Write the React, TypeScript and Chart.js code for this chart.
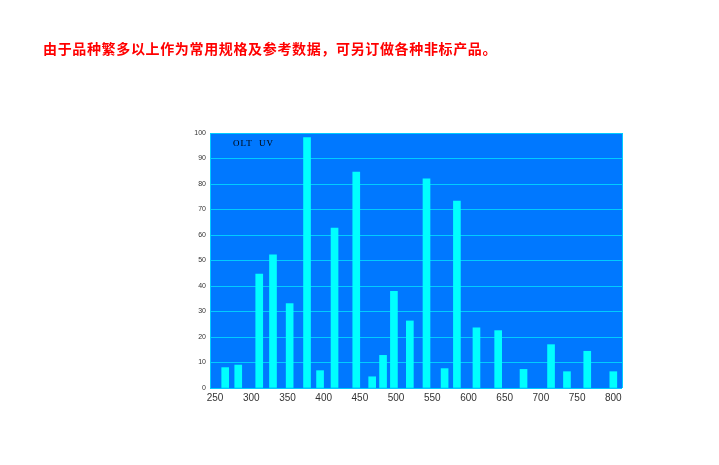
import * as React from 'react';
import {useRef, useEffect} from 'react';
import {Chart, registerables} from 'chart.js';

Chart.register(...registerables);

// wavelength (nm) of each line and its relative intensity
const WAVELENGTHS = [264, 282, 311, 330, 353, 377, 395, 415, 445, 467, 482, 497, 519, 542, 567, 584, 611, 641, 676, 714, 736, 764, 800];
const INTENSITY = [8, 9, 44.7, 52.2, 33.1, 98.2, 6.8, 62.7, 84.7, 4.4, 12.8, 37.9, 26.3, 82, 7.6, 73.3, 23.6, 22.5, 7.3, 17, 6.4, 14.4, 6.4];
const X_TICKS = [250, 300, 350, 400, 450, 500, 550, 600, 650, 700, 750, 800];
const NOTE = '由于品种繁多以上作为常用规格及参考数据，可另订做各种非标产品。';
const SERIES_NAME = 'OLT  UV';

const PLOT_BG = '#0078FF';
const CYAN = '#00FFFF';
const GRID = '#00CCFF';

const plotFrame = {
  id: 'plotFrame',
  beforeDraw(chart) {
    const {ctx, chartArea: a} = chart;
    ctx.save();
    ctx.fillStyle = PLOT_BG;
    ctx.fillRect(a.left, a.top, a.right - a.left, a.bottom - a.top);
    ctx.restore();
  },
  afterDraw(chart) {
    const {ctx, chartArea: a} = chart;
    ctx.save();
    ctx.strokeStyle = GRID;
    ctx.lineWidth = 1;
    ctx.beginPath();
    ctx.moveTo(a.right + 0.5, a.top);
    ctx.lineTo(a.right + 0.5, a.bottom);
    ctx.stroke();
    ctx.restore();
  }
};

const SpectrumChart = () => {
  const canvasRef = useRef(null);

  useEffect(() => {
    const chart = new Chart(canvasRef.current, {
      type: 'bar',
      data: {
        datasets: [{
          label: SERIES_NAME,
          data: WAVELENGTHS.map((w, i) => ({x: w, y: INTENSITY[i]})),
          backgroundColor: CYAN,
          borderWidth: 0,
          barThickness: 7
        }]
      },
      plugins: [plotFrame],
      options: {
        responsive: false,
        animation: false,
        layout: {padding: {left: 190, top: 133, right: 97, bottom: 57}},
        plugins: {legend: {display: false}, tooltip: {enabled: false}},
        scales: {
          x: {
            type: 'linear',
            offset: false,
            min: 243,
            max: 812,
            afterBuildTicks: scale => { scale.ticks = X_TICKS.map(v => ({value: v})); },
            afterFit: scale => { scale.height = 20; },
            grid: {display: false, drawTicks: false, offset: false},
            border: {display: false},
            ticks: {
              padding: 4,
              color: '#333',
              font: {family: 'Liberation Sans', size: 10},
              maxRotation: 0,
              autoSkip: false
            }
          },
          y: {
            min: 0,
            max: 100,
            afterFit: scale => { scale.width = 20; },
            grid: {color: GRID, drawTicks: false},
            border: {color: GRID},
            ticks: {
              stepSize: 10,
              padding: 4,
              color: '#333',
              font: {family: 'Liberation Sans', size: 7}
            }
          }
        }
      }
    });
    return () => chart.destroy();
  }, []);

  return <canvas ref={canvasRef} width={719} height={465}
    style={{position: 'absolute', left: 0, top: 0}} />;
};

export default function App() {
  return <div style={{position: 'absolute', left: 0, top: 0, width: 719, height: 465, background: '#fff', overflow: 'hidden'}}>
    <SpectrumChart />
    <div style={{position: 'absolute', left: 43, top: 41, fontFamily: '"Noto Sans CJK SC", sans-serif',
      fontSize: 14, lineHeight: '14px', fontWeight: 'bold', letterSpacing: 0.65, color: '#FF0000', whiteSpace: 'nowrap'}}>
      {NOTE}
    </div>
    <div style={{position: 'absolute', left: 233, top: 138, fontFamily: '"Liberation Serif", serif',
      fontSize: 9, lineHeight: '10px', letterSpacing: 1, color: '#000', whiteSpace: 'pre'}}>
      {SERIES_NAME}
    </div>
  </div>;
}
